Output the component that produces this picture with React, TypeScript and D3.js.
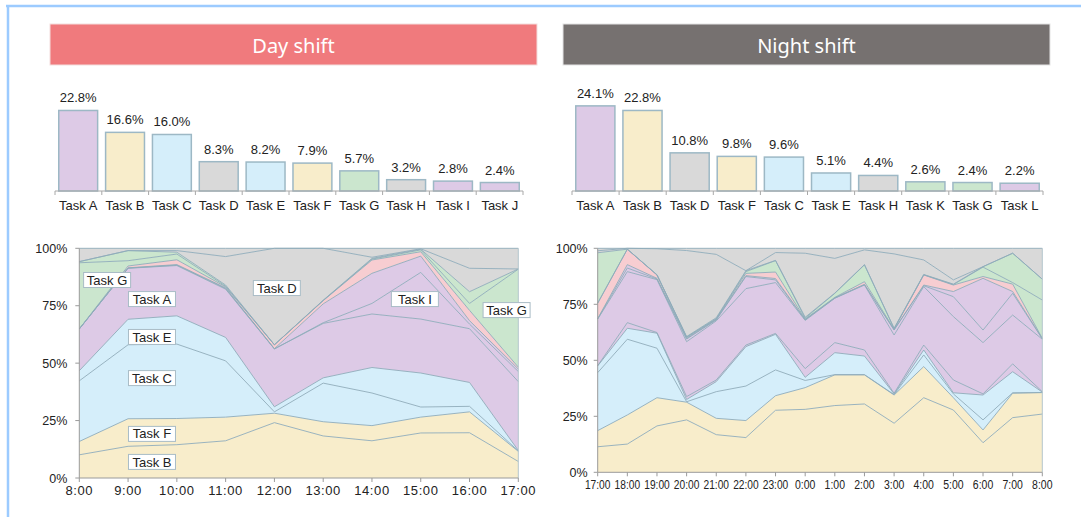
import * as d3 from 'd3';

// ---- top bar charts ----
const dayBarTasks = ['Task A', 'Task B', 'Task C', 'Task D', 'Task E', 'Task F', 'Task G', 'Task H', 'Task I', 'Task J'];
const dayBarValues = [22.8, 16.6, 16.0, 8.3, 8.2, 7.9, 5.7, 3.2, 2.8, 2.4];
const nightBarTasks = ['Task A', 'Task B', 'Task D', 'Task F', 'Task C', 'Task E', 'Task H', 'Task K', 'Task G', 'Task L'];
const nightBarValues = [24.1, 22.8, 10.8, 9.8, 9.6, 5.1, 4.4, 2.6, 2.4, 2.2];

// ---- day shift, share per hour (%) ----
const dayHours = ['8:00', '9:00', '10:00', '11:00', '12:00', '13:00', '14:00', '15:00', '16:00', '17:00'];
const dayB = [10.1, 13.8, 14.5, 16.2, 24.1, 18.3, 16.2, 19.6, 19.7, 7.2];
const dayF = [5.8, 12.0, 11.4, 10.3, 4.1, 6.2, 6.6, 6.9, 9.1, 4.4];
const dayC = [26.4, 32.2, 32.4, 24.5, 0.6, 16.8, 14.2, 4.4, 2.4, 0.2];
const dayE = [4.4, 11.1, 12.3, 10.2, 2.2, 2.3, 11.1, 14.8, 10.4, 0.2];
const dayA = [18.2, 22.2, 21.9, 21.0, 25.2, 23.7, 23.3, 23.5, 23.4, 30.0];
const dayI = [0, 0.1, 0.2, 0.3, 0, 0.3, 4.6, 20.3, 2.0, 4.4];
const dayJ = [0, 0.1, 0.2, 0.3, 0.1, 8.2, 13.1, 7.1, 1.5, 1.1];
const dayX = [0, 0.8, 2.1, 0.4, 1.7, 1.4, 5.8, 1.9, 4.5, 0.8];
const dayG = [28.8, 2.3, 2.5, 0.3, 0, 0.1, 0.4, 0.8, 3.0, 42.7];
const dayK = [0.5, 4.4, 0.8, 0.5, 0, 0.1, 0.3, 0.3, 5.1, 0.1];
const dayD = [0, 0, 0.7, 12.4, 42.0, 22.6, 0.5, 0.2, 10.2, 0];
const dayH = [5.8, 1.0, 1.0, 3.6, 0, 0, 3.9, 0.2, 8.7, 9.0];

// ---- night shift, share per hour (%) ----
const nightHours = ['17:00', '18:00', '19:00', '20:00', '21:00', '22:00', '23:00', '0:00', '1:00', '2:00', '3:00', '4:00', '5:00', '6:00', '7:00', '8:00'];
const nightB = [11.4, 12.6, 20.7, 23.4, 16.8, 15.5, 27.7, 28.1, 29.8, 30.5, 21.9, 33.3, 27.8, 13.2, 24.4, 26.0];
const nightF = [7.2, 13.0, 12.6, 7.9, 7.3, 7.6, 6.5, 9.7, 13.7, 13.0, 12.6, 13.9, 5.5, 5.7, 10.9, 9.6];
const nightC = [25.9, 33.8, 22.1, 0.2, 11.9, 15.4, 11.5, 3.2, 0.1, 0.1, 0.2, 5.2, 1.7, 4.5, 0.2, 0];
const nightE = [3.0, 4.9, 6.7, 1.0, 4.5, 17.6, 15.9, 1.4, 9.8, 8.3, 0.3, 2.2, 0.5, 11.1, 9.4, 0.2];
const nightL = [0.1, 2.5, 0.3, 1.3, 0.7, 0.7, 0.4, 3.9, 4.5, 2.7, 0.3, 2.2, 5.7, 0.5, 3.5, 0.2];
const nightA = [20.8, 22.8, 23.6, 24.5, 26.4, 25.2, 22.7, 21.5, 19.8, 29.0, 26.0, 26.1, 28.3, 22.9, 21.8, 23.4];
const nightI = [0.1, 1.6, 0.3, 1.2, 0.4, 5.4, 1.2, 0.3, 0.1, 0.2, 2.2, 0.4, 8.9, 5.6, 9.7, 0.2];
const nightJ = [0.1, 1.5, 0.3, 0.3, 0.2, 0.4, 0.6, 0.1, 0.1, 0.1, 0.2, 0.3, 2.3, 23.1, 0.8, 0.1];
const nightX = [6.8, 6.9, 1.5, 0.4, 0.2, 1.0, 2.9, 0.2, 0.2, 1.2, 0.2, 4.5, 2.9, 0.8, 3.3, 0.1];
const nightG = [0.2, 0, 0, 0.2, 0.2, 0.8, 5.1, 0.4, 1.8, 7.5, 0.2, 0.1, 0.2, 4.2, 0.7, 17.1];
const nightK = [22.4, 0, 0.1, 0.2, 0.4, 0.4, 0.1, 0.4, 0.1, 0.1, 0.2, 0.1, 0.2, 0.2, 13.1, 9.3];
const nightD = [0.9, 0.4, 11.6, 38.4, 28.3, 0, 3.5, 28.6, 15.5, 6.6, 33.2, 6.5, 1.9, 0, 0, 0];
const nightHH = [1.1, 0, 0.2, 1.0, 2.7, 10.0, 1.9, 2.2, 4.5, 0.7, 2.5, 5.2, 14.1, 8.2, 2.2, 13.8];

const dayLabels = [
  { text: 'Task G', at: 0.57, pct: 86.2 },
  { text: 'Task A', at: 1.49, pct: 77.9 },
  { text: 'Task E', at: 1.49, pct: 61.4 },
  { text: 'Task C', at: 1.49, pct: 43.5 },
  { text: 'Task F', at: 1.49, pct: 19.2 },
  { text: 'Task B', at: 1.49, pct: 7.0 },
  { text: 'Task D', at: 4.05, pct: 82.7 },
  { text: 'Task I', at: 6.88, pct: 77.9 },
  { text: 'Task G', at: 8.76, pct: 73.1 },
];

const PURPLE = '#ddcae6';
const YELLOW = '#f8edcb';
const BLUE = '#d5eefa';
const GRAY = '#d9d9d9';
const GREEN = '#cbe6ce';
const PINK = '#f7cdd1';
const EDGE = '#8eacba';

const taskColor: Record<string, string> = {
  A: PURPLE, B: YELLOW, C: BLUE, D: GRAY, E: BLUE, F: YELLOW, G: GREEN,
  H: GRAY, I: PURPLE, J: PURPLE, K: GREEN, L: PURPLE, X: PINK,
};

const FONT = '"Liberation Sans", Arial, sans-serif';

function makeRows(hours: string[], series: Record<string, number[]>) {
  return hours.map((h, i) => {
    const row: any = { hour: h };
    Object.keys(series).forEach((k) => (row[k] = series[k][i]));
    return row;
  });
}

function BarPanel({ tasks, values, x0, x1 }: { tasks: string[]; values: number[]; x0: number; x1: number }) {
  const base = 191;
  const x = d3.scaleBand().domain(tasks).range([x0, x1]).paddingInner(0.17).paddingOuter(0.08);
  const y = d3.scaleLinear().domain([0, 25]).range([base, base - 88.3]);
  const edges = d3.range(tasks.length + 1).map((i) => x0 + i * ((x1 - x0) / tasks.length));
  return (
    <g>
      {tasks.map((t, i) => (
        <g key={t}>
          <rect x={x(t)} y={y(values[i])} width={x.bandwidth()} height={base - y(values[i])}
            fill={taskColor[t.slice(5)]} stroke="#9db8c5" strokeWidth={1.5} />
          <text x={x(t)! + x.bandwidth() / 2} y={y(values[i]) - 8} textAnchor="middle"
            fontSize={13} fill="#222" fontFamily={FONT}>{values[i].toFixed(1)}%</text>
          <text x={x(t)! + x.bandwidth() / 2} y={base + 19} textAnchor="middle"
            fontSize={13} fill="#222" fontFamily={FONT}>{t}</text>
        </g>
      ))}
      <line x1={x0} x2={x1} y1={base} y2={base} stroke="#a8a8a8" />
      {edges.map((e, i) => (
        <line key={i} x1={e} x2={e} y1={base} y2={base + 4} stroke="#a8a8a8" />
      ))}
    </g>
  );
}

function AreaPanel(props: {
  hours: string[]; series: Record<string, number[]>; x0: number; x1: number; yt: number; yb: number;
  tickFont: number; charWidth?: number; labelDx: number; labels?: { text: string; at: number; pct: number }[];
}) {
  const { hours, series, x0, x1, yt, yb, tickFont, charWidth, labelDx, labels = [] } = props;
  const keys = Object.keys(series);
  const rows = makeRows(hours, series);
  const layers = d3.stack<any>().keys(keys).offset(d3.stackOffsetExpand)(rows);
  const x = d3.scaleLinear().domain([0, hours.length - 1]).range([x0, x1]);
  const y = d3.scaleLinear().domain([0, 1]).range([yb, yt]);
  const area = d3.area<any>().x((_, i) => x(i)).y0((d) => y(d[0])).y1((d) => y(d[1]));
  const top = d3.line<any>().x((_, i) => x(i)).y((d) => y(d[1]));
  const pctTicks = [0, 0.25, 0.5, 0.75, 1];
  const ly = d3.scaleLinear().domain([0, 100]).range([yb, yt]);
  return (
    <g>
      {layers.map((l) => (
        <path key={l.key} d={area(l) || ''} fill={taskColor[l.key]} />
      ))}
      {layers.map((l) => (
        <path key={'t' + l.key} d={top(l) || ''} fill="none" stroke={EDGE} strokeWidth={0.9} />
      ))}
      <line x1={x1} x2={x1} y1={yt} y2={yb} stroke="#b5c6ce" />
      <line x1={x0} x2={x0} y1={yt} y2={yb} stroke="#9a9a9a" />
      <line x1={x0} x2={x1} y1={yb} y2={yb} stroke="#9a9a9a" />
      {pctTicks.map((p) => (
        <g key={p}>
          <line x1={x0 - 4} x2={x0} y1={y(p)} y2={y(p)} stroke="#9a9a9a" />
          <text x={x0 - labelDx} y={y(p) + 4.5} textAnchor="end" fontSize={12.5} fill="#222"
            fontFamily={FONT}>{p * 100}%</text>
        </g>
      ))}
      {hours.map((h, i) => (
        <g key={h + i}>
          <line x1={x(i)} x2={x(i)} y1={yb} y2={yb + 4} stroke="#9a9a9a" />
          <text x={x(i)} y={yb + 17} textAnchor="middle" fontSize={tickFont}
            letterSpacing={charWidth ? undefined : 0.6}
            textLength={charWidth ? h.length * charWidth : undefined}
            lengthAdjust={charWidth ? 'spacingAndGlyphs' : undefined}
            fill="#222" fontFamily={FONT}>{h}</text>
        </g>
      ))}
      {labels.map((lb, i) => (
        <g key={i}>
          <rect x={x(lb.at) - 23.5} y={ly(lb.pct) - 7.5} width={47} height={15} fill="#fff"
            stroke="#a9bcc6" strokeWidth={1} />
          <text x={x(lb.at)} y={ly(lb.pct) + 4.6} textAnchor="middle" fontSize={13} fill="#222"
            fontFamily={FONT}>{lb.text}</text>
        </g>
      ))}
    </g>
  );
}

export default function App() {
  const daySeries = { B: dayB, F: dayF, C: dayC, E: dayE, A: dayA, I: dayI, J: dayJ, X: dayX, G: dayG, K: dayK, D: dayD, H: dayH };
  const nightSeries = {
    B: nightB, F: nightF, C: nightC, E: nightE, L: nightL, A: nightA, I: nightI, J: nightJ,
    X: nightX, G: nightG, K: nightK, D: nightD, H: nightHH,
  };
  return (
    <svg width={1081} height={517} style={{ position: 'absolute', left: 0, top: 0, background: '#fff' }}>
      <line x1={6} x2={1081} y1={6} y2={6} stroke="#9ccbff" strokeWidth={2.5} />
      <line x1={8} x2={8} y1={6} y2={517} stroke="#9ccbff" strokeWidth={2.5} />

      <rect x={50} y={24} width={487} height={41} fill="#f07a7d" stroke="#f3dede" />
      <text x={293.5} y={52.5} textAnchor="middle" fontSize={20} fill="#fff"
        fontFamily='"Noto Sans", sans-serif'>Day shift</text>
      <rect x={563} y={24} width={487} height={41} fill="#767170" stroke="#e4e4e4" />
      <text x={806.5} y={52.5} textAnchor="middle" fontSize={20} fill="#fff"
        fontFamily='"Noto Sans", sans-serif'>Night shift</text>

      <BarPanel tasks={dayBarTasks} values={dayBarValues} x0={55} x1={523} />
      <BarPanel tasks={nightBarTasks} values={nightBarValues} x0={572} x1={1043} />

      <AreaPanel hours={dayHours} series={daySeries} x0={79.3} x1={518.3} yt={248.3} yb={478}
        tickFont={13} labelDx={12} labels={dayLabels} />
      <AreaPanel hours={nightHours} series={nightSeries} x0={597.7} x1={1042.3} yt={248.3} yb={472.3}
        tickFont={12.5} charWidth={5.1} labelDx={10} />
    </svg>
  );
}
